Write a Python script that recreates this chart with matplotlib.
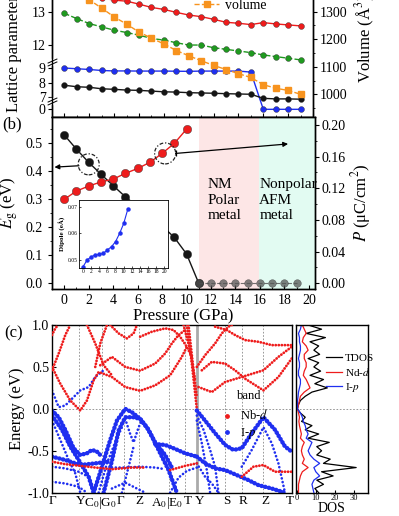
import numpy as np
import matplotlib.pyplot as plt
from matplotlib.patches import Ellipse

plt.rcParams['font.family'] = ['Liberation Serif', 'DejaVu Serif']
plt.rcParams['mathtext.fontset'] = 'stix'

W, H = 399, 516


def box(l, t, r, b):
    # axes rectangle from pixel edges
    return [l / W, 1 - b / H, (r - l) / W, (b - t) / H]


# ---------------- data: panel (a) ----------------
pressure = np.arange(20)
lat_red = [13.66, 13.58, 13.50, 13.43, 13.36, 13.33, 13.24, 13.14, 13.08, 12.99,
           12.91, 12.86, 12.78, 12.69, 12.66, 12.62, 12.68, 12.64, 12.61, 12.58]
lat_green = [12.96, 12.80, 12.65, 12.55, 12.45, 12.38, 12.30, 12.20, 12.15, 12.07,
             12.00, 12.00, 11.92, 11.87, 11.82, 11.77, 11.70, 11.65, 11.60, 11.55]
lat_blue = [9.00, 8.95, 8.90, 8.83, 8.80, 8.80, 8.79, 8.79, 8.79, 8.78,
            8.77, 8.79, 8.79, 8.79, 8.79, 8.72, 0.0, 0.0, 0.0, 0.0]
lat_black = [7.81, 7.71, 7.67, 7.57, 7.53, 7.48, 7.46, 7.41, 7.36, 7.34,
             7.30, 7.28, 7.26, 7.23, 7.21, 7.19, 6.91, 6.87, 6.87, 6.85]
volume = [1403, 1373, 1343, 1313, 1281, 1255, 1226, 1204, 1183, 1159,
          1140, 1122, 1105, 1090, 1075, 1061, 1035, 1022, 1014, 1000]

# ---------------- data: panel (b) ----------------
gap = [0.530, 0.479, 0.432, 0.390, 0.349, 0.309, 0.274, 0.238, 0.205, 0.164,
       0.105, 0, 0, 0, 0, 0, 0, 0, 0, 0]
polar = [0.106, 0.1165, 0.1228, 0.128, 0.1316, 0.1388, 0.145, 0.1527, 0.164,
         0.1767, 0.1947]
dip_p = np.arange(12)
dipole = [0.0475, 0.0500, 0.0512, 0.0519, 0.0521, 0.0525, 0.0538, 0.0550,
          0.0569, 0.0600, 0.0637, 0.0690]

# ---------------- data: panel (c) ----------------
klabels = ['Γ', 'Y', 'C$_0$|G$_0$', 'Γ', 'Z', 'A$_0$|E$_0$', 'T', 'Y', 'S', 'R', 'Z', 'T']
kticks = [0, 28.3, 49, 68.3, 87.7, 115.5, 136, 148.3, 175, 191.7, 213.3, 238.3]
kvlines = [27.3, 50, 72.3, 87.3, 117.3, 133.3, 173.3, 190, 211.7]
kbreak = 145

red_bands = [
    [(0, 0.50), (8.3, 0.30), (18.3, 0.10), (28.3, -0.02), (35, 0.10), (41.7, 0.34),
     (46.7, 0.44), (60, 0.38), (73.3, 0.26), (88.3, 0.215), (103.3, 0.28), (118.3, 0.40),
     (130, 0.62), (135, 0.74)],
    [(48.3, 0.52), (60, 0.62), (73.3, 0.50), (88.3, 0.455), (103.3, 0.54), (113.3, 0.66),
     (120, 0.78), (126.7, 0.88), (133.3, 0.94)],
    [(0, 0.46), (6.7, 0.66), (13.3, 0.88), (18.3, 1.0)],
    [(0, 0.88), (3.3, 0.96), (6, 1.0)],
    [(35, 1.0), (43.3, 0.78), (51.7, 0.52), (60, 0.40)],
    [(43.3, 0.50), (48.3, 0.78), (55, 1.0)],
    [(58.3, 1.0), (66.7, 0.90), (75, 0.84), (81.7, 0.90), (85, 1.0)],
    [(88.3, 0.86), (100, 0.92), (113.3, 0.96), (121.7, 0.94), (128.3, 0.86), (135, 0.74),
     (140, 0.62)],
    [(135, 1.0), (140, 0.54), (145, 0.0)],
    [(136.7, 1.0), (141.7, 0.46), (145, 0.14)],
    [(131.7, 1.0), (138.3, 0.70), (143.3, 0.34)],
    [(145, 0.50), (153.3, 0.64), (163.3, 0.78), (170, 0.90), (176.7, 0.98), (180, 1.0)],
    [(163.3, 0.98), (175, 0.94), (183.3, 0.88), (193.3, 0.82), (206.7, 0.80), (220, 0.76),
     (240, 0.76)],
    [(150, 0.46), (160, 0.56), (173.3, 0.54), (183.3, 0.46), (193.3, 0.36), (211.7, 0.22),
     (226.7, 0.38), (240, 0.60)],
    [(146.7, 0.26), (160, 0.20), (173.3, 0.32), (190, 0.38), (211.7, 0.46), (226.7, 0.62),
     (240, 0.74)],
    [(190, -0.81), (201.7, -0.69), (211.7, -0.67), (223.3, -0.75), (240, -0.75)],
    [(0, -0.63), (13.3, -0.66), (28.3, -0.68), (43.3, -0.70), (60, -0.72), (80, -0.70),
     (93.3, -0.70)],
    [(118.3, -0.73), (133.3, -0.68), (145, -0.65)],
]
blue_fat = [
    [(0, -0.02), (6.7, -0.10), (13.3, -0.25), (21.7, -0.47), (28.3, -0.55), (35, -0.53),
     (40, -0.49), (45, -0.51), (50, -0.57)],
    [(0, -0.08), (10, -0.25), (18.3, -0.45), (26.7, -0.61), (36.7, -0.81), (41.7, -1.0)],
    [(0, -0.57), (13.3, -0.61), (28.3, -0.67), (43.3, -0.65), (56.7, -0.63)],
    [(41.7, -1.0), (50, -0.69), (58.3, -0.37), (65, -0.14), (73.3, 0.0), (80, -0.04),
     (88.3, -0.12), (96.7, -0.25), (106.7, -0.49), (116.7, -0.73), (125, -1.0)],
    [(51.7, -1.0), (60, -0.62), (66.7, -0.26), (73.3, -0.10), (81.7, -0.10), (88.3, -0.12),
     (95, -0.22), (103.3, -0.40), (113.3, -0.55), (120, -0.70)],
    [(103.3, -0.42), (113.3, -0.43), (121.7, -0.47), (133.3, -0.53), (145, -0.57)],
    [(145, -0.02), (153.3, -0.14), (163.3, -0.29), (173.3, -0.43), (181.7, -0.49),
     (190, -0.47), (200, -0.29), (211.7, -0.10), (223.3, -0.25), (233.3, -0.45), (240, -0.51)],
    [(145, -0.57), (153.3, -0.65), (163.3, -0.71), (173.3, -0.73), (185, -0.79),
     (196.7, -0.85), (206.7, -0.91), (220, -0.95), (233.3, -1.0)],
]
blue_thin = [
    [(0, -0.14), (8.3, -0.37), (16.7, -0.61), (23.3, -0.77), (28.3, -1.0)],
    [(0, -0.69), (13.3, -0.71), (26.7, -0.75), (33.3, -0.79)],
    [(0, -0.87), (13.3, -0.89), (26.7, -0.93), (35, -1.0)],
    [(73.3, -0.12), (78.3, -0.30), (81.7, -0.40), (86.7, -0.22), (90, -0.14)],
    [(46.7, -1.0), (55, -0.65), (63.3, -0.40), (70, -0.22)],
    [(70, -1.0), (76.7, -0.69), (81.7, -0.45)],
    [(60, -0.70), (73.3, -0.70), (88.3, -0.69), (103.3, -0.70), (113.3, -0.72)],
    [(60, -0.95), (73.3, -0.88), (85, -0.95), (93.3, -1.0)],
    [(118.3, -1.0), (126.7, -0.82), (135, -0.74), (145, -0.70)],
    [(145, -0.08), (151.7, -0.25), (158.3, -0.49), (163.3, -0.69), (166.7, -1.0)],
    [(145, -0.14), (150, -0.41), (155, -0.73), (158.3, -1.0)],
    [(190, -0.69), (200, -0.49), (211.7, -0.22), (220, -0.41), (226.7, -0.65), (233.3, -1.0)],
    [(145, -0.65), (153.3, -0.81), (160, -0.89), (166.7, -1.0)],
    [(0, 0.22), (6.7, 0.02), (13.3, 0.04), (23.3, 0.16), (28.3, 0.22), (36.7, 0.26),
     (43.3, 0.38), (51.7, 0.46)],
]

dos_e = np.round(np.arange(1.0, -1.0001, -0.05), 2)
tdos = [6, 13, 5, 15, 7, 11.5, 9, 12, 6, 11.5, 9, 12.5, 7, 14, 9.5, 16, 8, 4.5, 2, 1,
        0.4, 2, 4.5, 2.6, 8, 4.5, 11.5, 6, 17, 10.5, 13, 10.5, 17.5, 14, 31, 13, 19,
        10.5, 14, 9.5, 11.5]
nd_d = [3, 4, 5, 3.5, 3, 5, 6, 4, 4, 5, 5, 4, 3.5, 5, 6, 7, 4, 2, 1.5, 1,
        0.5, 1, 1.5, 1.2, 1.5, 2, 2.5, 2, 4, 3, 2.5, 3, 4, 3, 6, 3, 2, 1.5, 1, 1, 1]
i_p = [2.5, 2, 1, 1.5, 1.5, 2, 2, 1.5, 1, 1.5, 1.5, 1, 1, 2, 2, 1.5, 1, 0.8, 0.5, 0.5,
       0.5, 2, 3, 3.5, 4.5, 5, 6, 5, 8, 7, 6, 7, 9, 12, 9, 10, 12, 9, 8, 8.5, 9]

c_red = '#ee1c1c'
c_green = '#1f9a1f'
c_blue = '#1f2ff0'
c_orange = '#f7931e'

fig = plt.figure(figsize=(W / 100, H / 100), dpi=100)

# ---------------- panel (a) : broken lattice axis ----------------
kv = np.array([-10, 0.5, 6.8, 9.4, 11.5, 20])
kf = -np.array([254.3, 102.05, 99.9, 62.2, 61.5, -219])


def fwd(v):
    return np.interp(v, kv, kf)


def inv(u):
    return np.interp(u, kf, kv)


ax_a = fig.add_axes(box(52, -15, 313, 117))
ax_a.set_yscale('function', functions=(fwd, inv))
ax_a.set_xlim(-1, 20)
ax_a.set_ylim(-0.53, 13.82)
ax_a.set_yticks([0, 7, 8, 9, 12, 13])
ax_a.set_yticklabels(['0', '7', '8', '9', '12', '13'])
ax_a.yaxis.set_minor_locator(plt.NullLocator())
ax_a.tick_params(axis='y', direction='out', labelsize=10, length=3, pad=1.5)
ax_a.set_xticks(range(0, 21, 2))
ax_a.set_xticks(range(0, 21), minor=True)
ax_a.tick_params(axis='x', which='both', direction='in', labelbottom=False)
ax_a.tick_params(axis='x', which='major', length=3)
ax_a.tick_params(axis='x', which='minor', length=1.5)

ax_v = ax_a.twinx()
ax_v.set_ylim(917.5, 1397)
ax_v.set_yticks([1000, 1100, 1200, 1300])
ax_v.set_yticks([950, 1050, 1150, 1250, 1350], minor=True)
ax_v.tick_params(axis='y', which='both', direction='out', labelsize=10, pad=2)
ax_v.tick_params(axis='y', which='major', length=3)
ax_v.tick_params(axis='y', which='minor', length=1.5)


def balls(ax, x, y, color, ms, ls='-', lw=1.0, **kw):
    ax.plot(x, y, ls, color=color, lw=lw, marker='o', ms=ms, mfc=color,
            mec='#333333', mew=0.3, **kw)


balls(ax_a, pressure, lat_red, c_red, 4.2)
balls(ax_a, pressure, lat_green, c_green, 4.2, ls='--')
balls(ax_a, pressure, lat_blue, c_blue, 4.2)
balls(ax_a, pressure, lat_black, '#151515', 4.2)
ax_v.plot(pressure, volume, '--', color=c_orange, lw=1.0, marker='s', ms=3.8,
          label='volume')
ax_v.legend(loc='center left', bbox_to_anchor=(0.545, 0.845), frameon=False,
            fontsize=10, handlelength=1.8, handletextpad=0.4, borderaxespad=0,
            borderpad=0)

# break marks on the left spine
for vb in [10.4, 3.6]:
    ax_a.plot([0], [vb], marker='s', ms=4, color='white', mec='white',
              transform=ax_a.get_yaxis_transform(), clip_on=False, zorder=6)
    for off in (-1.2, 1.2):
        ax_a.plot([0], [vb], marker=[(-1, -0.45 + off * 0.25), (1, 0.45 + off * 0.25)],
                  ms=7, color='black', mew=0.7, ls='none',
                  transform=ax_a.get_yaxis_transform(), clip_on=False, zorder=7)

fig.text(13 / W, 1 - 112 / H, 'Lattice parameter (Å)', rotation=90, ha='center',
         va='bottom', fontsize=12)
fig.text(365 / W, 1 - 38 / H, 'Volume (Å$^3$)', rotation=90, ha='center',
         va='center', fontsize=12)

# ---------------- panel (b) ----------------
ax_b = fig.add_axes(box(52, 117, 315, 289))
ax_b.set_xlim(-1, 20.5)
ax_b.set_ylim(-0.02, 0.594)
ax_b.axvspan(11.05, 15.9, color='#fde6e6', lw=0, zorder=0)
ax_b.axvspan(15.9, 20.5, color='#e2fbf2', lw=0, zorder=0)
ax_b.set_xticks(range(0, 21, 2))
ax_b.set_xticks(range(0, 21), minor=True)
ax_b.set_yticks([0, 0.1, 0.2, 0.3, 0.4, 0.5])
ax_b.set_yticks(np.arange(0.05, 0.56, 0.1), minor=True)
ax_b.tick_params(axis='x', which='both', direction='in', labelsize=10)
ax_b.tick_params(axis='y', which='both', direction='out', labelsize=10)
ax_b.tick_params(which='major', length=3)
ax_b.tick_params(which='minor', length=1.5)
ax_b.set_xlabel('Pressure (GPa)', fontsize=12, labelpad=1)
ax_b.set_ylabel('$E_\\mathrm{g}$ (eV)', fontsize=12, labelpad=4)

ax_p = ax_b.twinx()
ax_p.set_ylim(-0.0072, 0.210)
ax_p.set_yticks([0, 0.04, 0.08, 0.12, 0.16, 0.20])
ax_p.set_yticklabels(['0.00', '0.04', '0.08', '0.12', '0.16', '0.20'])
ax_p.set_yticks(np.arange(0.02, 0.21, 0.04), minor=True)
ax_p.tick_params(axis='y', which='both', direction='out', labelsize=10, pad=2)
ax_p.tick_params(which='major', length=3)
ax_p.tick_params(which='minor', length=1.5)
ax_p.set_ylabel('$P$ (μC/cm$^2$)', fontsize=12, labelpad=2)

balls(ax_b, pressure[:12], gap[:12], '#151515', 6, zorder=3)
ax_b.plot(pressure[11:], gap[11:], '--', color='#444444', lw=0.8, marker='o',
          ms=5.5, mfc='#555555', mec='#333333', mew=0.3, alpha=0.75, zorder=3)
balls(ax_p, pressure[:11], polar, c_red, 6, zorder=3)

ax_b.add_patch(Ellipse((2.0, 0.425), 1.72, 0.075, fill=False, ls=(0, (3, 1.5, 1, 1.5)),
                       lw=0.9, color='#222222', zorder=4))
ax_p.add_patch(Ellipse((8.25, 0.164), 1.72, 0.0265, fill=False, ls=(0, (3, 1.5, 1, 1.5)),
                       lw=0.9, color='#222222', zorder=4))
ax_b.annotate('', xy=(-0.8, 0.415), xytext=(1.2, 0.42),
              arrowprops=dict(arrowstyle='-|>', color='black', lw=0.9,
                              mutation_scale=7, shrinkA=0, shrinkB=0))
ax_p.annotate('', xy=(18.3, 0.176), xytext=(9.1, 0.164),
              arrowprops=dict(arrowstyle='-|>', color='black', lw=0.9,
                              mutation_scale=7, shrinkA=0, shrinkB=0))
ax_p.plot([9.1], [0.164], marker='|', ms=5, color='black', mew=0.9, zorder=4)

ax_b.text(11.75, 0.375, 'NM\nPolar\nmetal', fontsize=11, va='top', ha='left',
          linespacing=1.25)
ax_b.text(15.95, 0.375, 'Nonpolar\nAFM\nmetal', fontsize=11, va='top', ha='left',
          linespacing=1.25)
fig.text(2 / W, 1 - 124 / H, '(b)', fontsize=12, va='center', ha='left')

# inset
ax_in = fig.add_axes(box(79, 200, 168, 268))
ax_in.set_xlim(-1, 20.9)
ax_in.set_ylim(0.047, 0.0725)
ax_in.plot(dip_p, dipole, '-', color=c_blue, lw=0.8, marker='o', ms=2.2)
ax_in.set_xticks(range(0, 21, 2))
ax_in.set_yticks([0.05, 0.06, 0.07])
ax_in.tick_params(labelsize=4, length=1.5, width=0.5, pad=1, direction='in')
ax_in.set_ylabel('Dipole (eÅ)', fontsize=5, fontweight='bold', labelpad=1)
for s in ax_in.spines.values():
    s.set_linewidth(0.6)

# ---------------- panel (c) : bands ----------------
ax_c = fig.add_axes(box(52, 325, 291.7, 492.7))
ax_c.set_xlim(0, 240)
ax_c.set_ylim(-1, 1)
for kx in kvlines:
    ax_c.axvline(kx, color='#888888', ls=(0, (2, 2)), lw=0.6, zorder=0)
ax_c.axvline(kbreak, color='#aaaaaa', lw=2.0, zorder=0)
ax_c.axhline(0, color='#888888', ls=(0, (2, 2)), lw=0.6, zorder=0)

for band in blue_fat:
    k, e = zip(*band)
    ax_c.plot(k, e, color=c_blue, lw=3.2, ls=(0, (0.05, 0.8)),
              dash_capstyle='round', zorder=2)
for band in blue_thin:
    k, e = zip(*band)
    ax_c.plot(k, e, color=c_blue, lw=1.9, ls=(0, (0.05, 1.4)),
              dash_capstyle='round', zorder=2)
for band in red_bands:
    k, e = zip(*band)
    ax_c.plot(k, e, color=c_red, lw=2.0, ls=(0, (0.05, 1.05)),
              dash_capstyle='round', zorder=3)

ax_c.set_xticks(kticks)
ax_c.set_xticklabels(klabels, fontsize=9.5)
ax_c.tick_params(axis='x', length=0, pad=2)
ax_c.set_yticks([-1, -0.5, 0, 0.5, 1])
ax_c.set_yticklabels(['-1.0', '-0.5', '0.0', '0.5', '1.0'])
ax_c.tick_params(axis='y', labelsize=10, direction='in', length=3, pad=2)
ax_c.set_ylabel('Energy (eV)', fontsize=12, labelpad=2)
ax_c.scatter([], [], s=6, color=c_red, label='Nb-$d$')
ax_c.scatter([], [], s=6, color=c_blue, label='I-$p$')
ax_c.legend(loc='upper left', bbox_to_anchor=(0.685, 0.535), frameon=False,
            fontsize=9, handletextpad=0.5, borderaxespad=0, labelspacing=0.3,
            handlelength=1.0)
ax_c.text(0.77, 0.575, 'band', transform=ax_c.transAxes, fontsize=9, va='center')
fig.text(4 / W, 1 - 333 / H, '(c)', fontsize=12, va='center', ha='left')

# DOS
ax_d = fig.add_axes(box(296, 325, 367.7, 492.7))
ax_d.set_ylim(-1, 1)
ax_d.set_xlim(-0.3, 37)
ax_d.axhline(0, color='#888888', ls=(0, (2, 2)), lw=0.6, zorder=0)
ax_d.plot(tdos, dos_e, color='black', lw=0.9, label='TDOS')
ax_d.plot(nd_d, dos_e, color=c_red, lw=0.9, label='Nd-$d$')
ax_d.plot(i_p, dos_e, color=c_blue, lw=0.9, label='I-$p$')
ax_d.set_yticks([])
ax_d.set_xticks([0, 10, 20, 30])
ax_d.tick_params(axis='x', labelsize=6, direction='in', length=2, pad=1)
ax_d.set_xlabel('DOS', fontsize=10, labelpad=0)
ax_d.legend(loc='upper left', bbox_to_anchor=(0.36, 0.86), frameon=False, fontsize=8,
            handlelength=1.4, handletextpad=0.3, borderaxespad=0, labelspacing=0.3)

for ax in [ax_a, ax_v, ax_b, ax_p, ax_c, ax_d]:
    for s in ax.spines.values():
        s.set_linewidth(1.0)

fig.savefig('out.png', dpi=100)
